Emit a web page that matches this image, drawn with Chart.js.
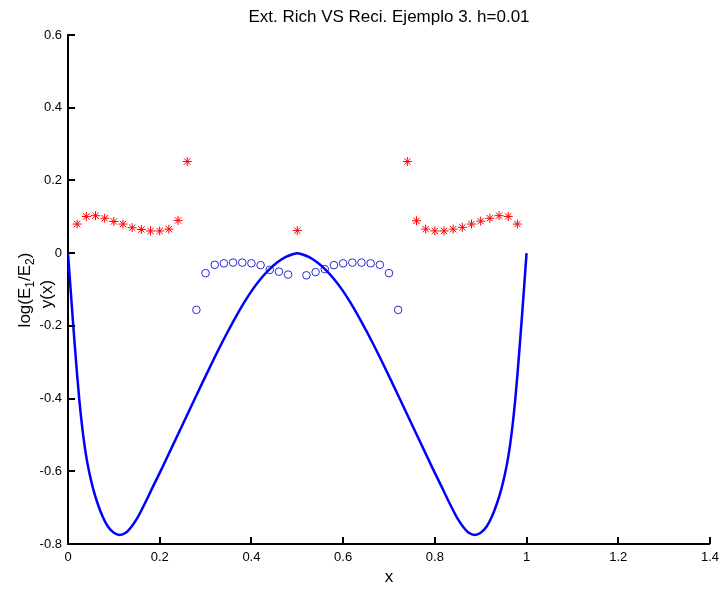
<!DOCTYPE html>
<html><head><meta charset="utf-8">
<script src="https://cdn.jsdelivr.net/npm/chart.js@4"></script>
<style>html,body{margin:0;padding:0;background:#fff;overflow:hidden;}</style>
</head><body>
<canvas id="c" width="725" height="589"></canvas>
<script>
const titleText = 'Ext. Rich VS Reci. Ejemplo 3. h=0.01';
const xLabelText = 'x';
const xTicks = [0, 0.2, 0.4, 0.6, 0.8, 1, 1.2, 1.4];
const xTickLabels = ['0', '0.2', '0.4', '0.6', '0.8', '1', '1.2', '1.4'];
const yTicks = [-0.8, -0.6, -0.4, -0.2, 0, 0.2, 0.4, 0.6];
const yTickLabels = ['-0.8', '-0.6', '-0.4', '-0.2', '0', '0.2', '0.4', '0.6'];

// red stars: log(E1/E2)
const starX = [0.02,0.04,0.06,0.08,0.10,0.12,0.14,0.16,0.18,0.20,0.22,0.24,0.26,
               0.50,
               0.74,0.76,0.78,0.80,0.82,0.84,0.86,0.88,0.90,0.92,0.94,0.96,0.98];
const starY = [0.080,0.101,0.103,0.096,0.087,0.080,0.070,0.065,0.061,0.061,0.066,0.090,0.252,
               0.062,
               0.252,0.089,0.066,0.061,0.061,0.066,0.071,0.080,0.088,0.096,0.103,0.101,0.080];

// blue circles
const circX = [0.28,0.30,0.32,0.34,0.36,0.38,0.40,0.42,0.44,0.46,0.48,
               0.52,0.54,0.56,0.58,0.60,0.62,0.64,0.66,0.68,0.70,0.72];
const circY = [-0.156,-0.055,-0.032,-0.028,-0.026,-0.026,-0.028,-0.033,-0.046,-0.051,-0.059,
               -0.061,-0.052,-0.044,-0.033,-0.028,-0.026,-0.026,-0.028,-0.032,-0.055,-0.156];

// blue curve y(x)
const curveX = [0,0.005,0.010,0.015,0.020,0.025,0.030,0.035,0.040,0.047,0.055,0.065,0.076,0.087,0.100,0.113,
                0.125,0.138,0.150,0.167,0.185,0.204,0.222,0.240,0.258,0.276,0.294,0.312,0.330,0.348,0.366,0.384,0.402,0.420,0.438,0.456,0.474,0.490,0.500,
                0.510,0.526,0.544,0.562,0.580,0.598,0.616,0.634,0.652,0.670,0.688,0.706,0.724,0.742,0.760,0.778,0.796,0.815,0.833,0.850,0.862,0.875,
                0.887,0.900,0.913,0.924,0.935,0.945,0.953,0.960,0.965,0.970,0.975,0.980,0.985,0.990,0.995,1.000];
const curveY = [0,-0.088,-0.174,-0.257,-0.336,-0.408,-0.468,-0.519,-0.561,-0.607,-0.649,-0.690,-0.726,-0.752,-0.769,-0.775,
                -0.770,-0.753,-0.731,-0.690,-0.643,-0.594,-0.546,-0.498,-0.450,-0.402,-0.354,-0.307,-0.261,-0.217,-0.175,-0.136,-0.101,-0.071,-0.046,-0.026,-0.011,-0.003,0,
                -0.003,-0.011,-0.026,-0.046,-0.071,-0.101,-0.136,-0.175,-0.217,-0.261,-0.307,-0.354,-0.402,-0.450,-0.498,-0.546,-0.594,-0.643,-0.690,-0.731,-0.753,-0.770,
                -0.775,-0.769,-0.752,-0.726,-0.690,-0.649,-0.607,-0.561,-0.519,-0.468,-0.408,-0.336,-0.257,-0.174,-0.088,0];

const toPts = (xs, ys) => xs.map((x, i) => ({x: x, y: ys[i]}));
const FONT = '"Liberation Sans", Arial, Helvetica, sans-serif';

const decorPlugin = {
  id: 'decor',
  afterDraw(chart) {
    const ctx = chart.ctx;
    const ca = chart.chartArea;
    const xs = chart.scales.x, ys = chart.scales.y;
    ctx.save();
    // inward tick marks
    ctx.strokeStyle = '#000';
    ctx.lineWidth = 2;
    ctx.beginPath();
    xTicks.forEach(v => {
      const px = Math.round(xs.getPixelForValue(v));
      ctx.moveTo(px, ca.bottom); ctx.lineTo(px, ca.bottom - 7);
    });
    yTicks.forEach(v => {
      const py = Math.round(ys.getPixelForValue(v));
      ctx.moveTo(ca.left, py); ctx.lineTo(ca.left + 7, py);
    });
    ctx.stroke();

    ctx.fillStyle = '#000';
    // title
    ctx.font = '17px ' + FONT;
    ctx.textAlign = 'center';
    ctx.textBaseline = 'middle';
    ctx.fillText(titleText, (ca.left + ca.right) / 2, 17);
    // x label
    ctx.fillText(xLabelText, (ca.left + ca.right) / 2, 577);

    // y label (two lines, rotated, with subscripts)
    const drawRich = (parts, cx, cy) => {
      ctx.save();
      ctx.translate(cx, cy);
      ctx.rotate(-Math.PI / 2);
      ctx.textAlign = 'left';
      ctx.textBaseline = 'alphabetic';
      let w = 0;
      parts.forEach(p => { ctx.font = (p.sub ? '12px ' : '17px ') + FONT; p.w = ctx.measureText(p.t).width; w += p.w; });
      let x = -w / 2;
      parts.forEach(p => {
        ctx.font = (p.sub ? '12px ' : '17px ') + FONT;
        ctx.fillText(p.t, x, p.sub ? 10 : 6);
        x += p.w;
      });
      ctx.restore();
    };
    drawRich([{t:'log(E'},{t:'1',sub:true},{t:'/E'},{t:'2',sub:true},{t:')'}], 24, 290);
    drawRich([{t:'y(x)'}], 46, 294);
    ctx.restore();
  }
};

new Chart(document.getElementById('c'), {
  type: 'scatter',
  data: {
    datasets: [
      {
        label: 'y(x)',
        data: toPts(curveX, curveY),
        showLine: true,
        borderColor: '#0000ff',
        borderWidth: 2.5,
        pointRadius: 0,
        cubicInterpolationMode: 'monotone',
        fill: false,
        order: 1
      },
      {
        label: 'log(E1/E2) *',
        data: toPts(starX, starY),
        showLine: false,
        pointStyle: 'star',
        pointRadius: 4.5,
        borderColor: '#ff0000',
        backgroundColor: '#ff0000',
        borderWidth: 1,
        order: 2
      },
      {
        label: 'log(E1/E2) o',
        data: toPts(circX, circY),
        showLine: false,
        pointStyle: 'circle',
        pointRadius: 3.8,
        borderColor: '#2a2ad0',
        backgroundColor: 'rgba(0,0,0,0)',
        borderWidth: 1,
        order: 3
      }
    ]
  },
  options: {
    responsive: false,
    animation: false,
    devicePixelRatio: 1,
    layout: { padding: { top: 35, right: 15, left: 0, bottom: 0 } },
    plugins: { legend: { display: false }, title: { display: false }, tooltip: { enabled: false } },
    scales: {
      x: {
        type: 'linear', min: 0, max: 1.4,
        afterBuildTicks: s => { s.ticks = xTicks.map(v => ({value: v})); },
        afterFit: s => { s.height = 45; },
        grid: { display: false, drawTicks: false },
        border: { display: true, color: '#000', width: 2 },
        ticks: {
          padding: 6, color: '#000', font: { family: FONT, size: 13 },
          maxRotation: 0, autoSkip: false,
          callback: (v, i) => xTickLabels[i]
        }
      },
      y: {
        type: 'linear', min: -0.8, max: 0.6,
        afterBuildTicks: s => { s.ticks = yTicks.map(v => ({value: v})); },
        afterFit: s => { s.width = 68; },
        grid: { display: false, drawTicks: false },
        border: { display: true, color: '#000', width: 2 },
        ticks: {
          padding: 6, color: '#000', font: { family: FONT, size: 13 },
          autoSkip: false,
          callback: (v, i) => yTickLabels[i]
        }
      }
    }
  },
  plugins: [decorPlugin]
});
</script>
</body></html>
